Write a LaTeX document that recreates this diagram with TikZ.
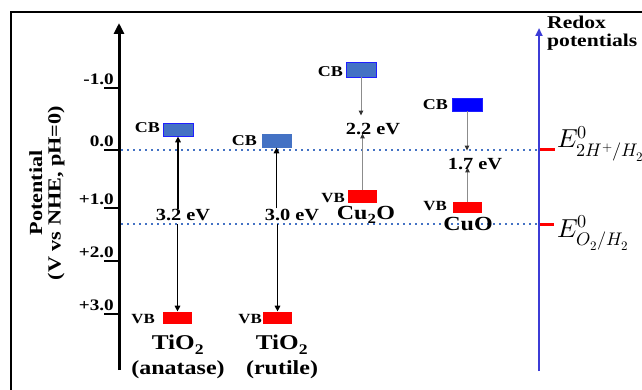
\documentclass[tikz,border=0pt]{standalone}
\usepackage{fontspec}
\usepackage{unicode-math}
\setmainfont[FakeStretch=1.2]{Liberation Serif}
\setmathfont{Latin Modern Math}
\usetikzlibrary{arrows.meta}
\definecolor{cbblue}{HTML}{4472C4}
\definecolor{edgeblue}{HTML}{1F1FFF}
\definecolor{pureblue}{HTML}{0000FF}
\definecolor{vbred}{HTML}{FF0000}
\definecolor{redoxblue}{HTML}{3C3CD6}
\definecolor{garrowgray}{HTML}{8C8C8C}
\newcommand\fsz[1]{\fontsize{#1}{#1}\selectfont\bfseries}
\tikzset{
  lbl/.style={inner sep=0pt},
  band/.style={inner sep=0pt, line width=0.8pt},
  cbband/.style={band, fill=cbblue, draw=edgeblue},
  vbband/.style={band, fill=vbred},
  tick/.style={line width=2.5pt},
  level/.style={cbblue, line width=2.4pt, dash pattern=on 2.4pt off 3.6pt},
  barrow/.style={line width=1.5pt, -{Triangle[width=5.5pt,length=6pt]}},
  garrow/.style={garrowgray, line width=1pt, -{Triangle[width=4.5pt,length=5pt,color=black!80]}},
  redtick/.style={vbred, line width=3pt},
}
\begin{document}
\begin{tikzpicture}[x=1pt,y=-1pt]
\useasboundingbox (0,0) rectangle (642,390);
% frame
\draw[line width=2pt] (11,390) -- (11,12) -- (642,12);
% main axis
\coordinate (axbot) at (119,370);
\coordinate (axtop) at (119,23);
\draw[line width=3pt, -{Triangle[width=10pt,length=11pt]}] (axbot) -- (axtop);
% ticks and labels
\foreach \y/\t in {88/-1.0, 150/0.0, 208/+1.0, 261/+2.0, 314/+3.0}{
  \draw[tick] (104,\y) -- (119,\y);
  \node[lbl, anchor=base east, font=\fsz{16}] at (114,\y-3.5) {\t};
}
% axis title
\node[rotate=90, align=center, font=\fsz{18.5}, inner sep=0pt] (ylab) at (47,193)
  {\fontsize{18.5}{27}\selectfont Potential\\(V vs NHE, pH=0)};
% redox axis
\coordinate (rxbot) at (539,371);
\coordinate (rxtop) at (539,28);
% dotted levels
\draw[level] (121,150) -- (538,150);
\draw[level] (121,224) -- (538,224);
\draw[redoxblue, line width=2.5pt, -{Triangle[width=7pt,length=8pt]}] (rxbot) -- (rxtop);
\draw[redtick] (540,150) -- (555,150);
\draw[redtick] (540,224) -- (554,224);
\node[lbl, anchor=base west, font=\fsz{18}, align=left] (redox) at (547,47)
  {\fontsize{18}{23}\selectfont Redox\\potentials};
\node[lbl, anchor=base west, font=\fontsize{26}{26}\selectfont] (eh) at (557,148) {$E^{0}_{2H^{+}/H_{2}}$};
\node[lbl, anchor=base west, font=\fontsize{26}{26}\selectfont] (eo) at (557,237) {$E^{0}_{O_{2}/H_{2}}$};
% TiO2 anatase
\node[cbband, minimum width=30pt, minimum height=13pt] (acb) at (178,129.5) {};
\node[vbband, minimum width=29pt, minimum height=12pt] (avb) at (177.5,318) {};
\node[lbl, anchor=base east, font=\fsz{15}] (acbl) at (160,133) {CB};
\node[lbl, anchor=base east, font=\fsz{14}] (avbl) at (155,323) {VB};
\node[lbl, anchor=base, font=\fsz{17}] (a32) at (183,220) {3.2 eV};
\draw[barrow] (a32.north -| acb.south) -- (acb.south);
\draw[barrow, shorten <=4pt] (a32.south -| avb.north) -- (avb.north);
\node[lbl, anchor=base, font=\fsz{21}] (aname) at (178,349) {TiO\textsubscript{2}};
\node[lbl, anchor=base, font=\fsz{20}] (aname2) at (178,374) {(anatase)};
% TiO2 rutile
\node[cbband, draw=cbblue, minimum width=29pt, minimum height=13pt] (rcb) at (276.5,140.5) {};
\node[vbband, minimum width=29pt, minimum height=12pt] (rvb) at (277.5,318) {};
\node[lbl, anchor=base east, font=\fsz{15}] (rcbl) at (257,146) {CB};
\node[lbl, anchor=base east, font=\fsz{14}] (rvbl) at (262,323) {VB};
\node[lbl, anchor=base, font=\fsz{17}] (r30) at (292,220) {3.0 eV};
\draw[barrow] (r30.north -| rcb.south) -- (rcb.south);
\draw[barrow, shorten <=4pt] (r30.south -| rvb.north) -- (rvb.north);
\node[lbl, anchor=base, font=\fsz{21}] (rname) at (282,349) {TiO\textsubscript{2}};
\node[lbl, anchor=base, font=\fsz{20}] (rname2) at (282,374) {(rutile)};
% Cu2O
\node[cbband, minimum width=30pt, minimum height=15pt] (ccb) at (361,69.5) {};
\node[vbband, minimum width=29pt, minimum height=12pt] (cvb) at (362.5,196.5) {};
\node[lbl, anchor=base east, font=\fsz{15}] (ccbl) at (343,77) {CB};
\node[lbl, anchor=base east, font=\fsz{14}] (cvbl) at (345,202) {VB};
\node[lbl, anchor=base, font=\fsz{17}] (c22) at (373,135) {2.2 eV};
\draw[garrow, shorten >=8pt] (ccb.south) -- (ccb.south |- c22.north);
\draw[garrow, shorten >=-2pt] (cvb.north) -- (cvb.north |- c22.south);
\node[lbl, anchor=base, font=\fsz{20}] (cname) at (366,219) {Cu\textsubscript{2}O};
% CuO
\node[band, fill=pureblue, draw=edgeblue, minimum width=30pt, minimum height=13pt] (ocb) at (467,104.5) {};
\node[vbband, minimum width=29pt, minimum height=11pt] (ovb) at (467.5,207.5) {};
\node[lbl, anchor=base east, font=\fsz{15}] (ocbl) at (448,110) {CB};
\node[lbl, anchor=base east, font=\fsz{14}] (ovbl) at (447,211) {VB};
\node[lbl, anchor=base, font=\fsz{17}] (o17) at (475,170) {1.7 eV};
\draw[garrow, shorten >=8pt] (ocb.south) -- (ocb.south |- o17.north);
\draw[garrow, shorten >=-3pt] (ovb.north) -- (ovb.north |- o17.south);
\node[lbl, anchor=base, font=\fsz{20}] (oname) at (468,230) {CuO};
\end{tikzpicture}
\end{document}
